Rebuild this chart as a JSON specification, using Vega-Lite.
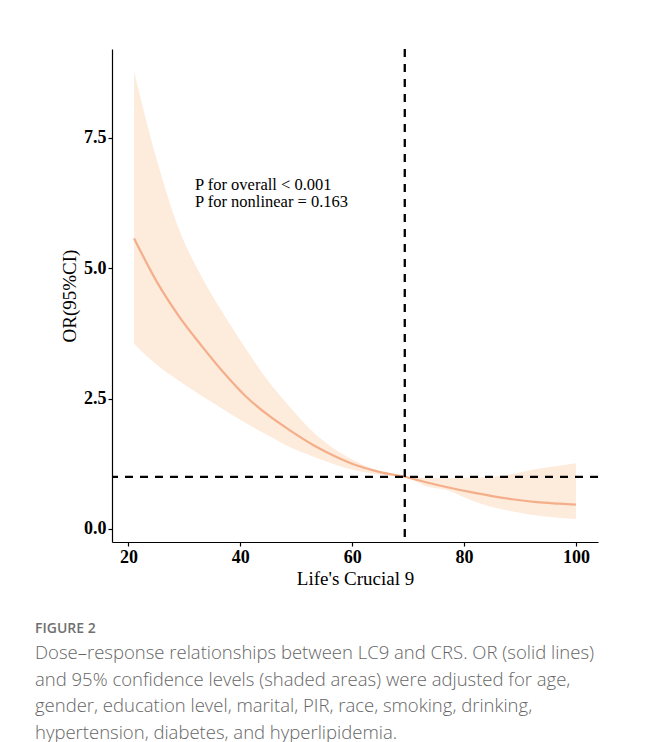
{
  "$schema": "https://vega.github.io/schema/vega-lite/v6.json",
  "width": 486,
  "height": 493,
  "autosize": "none",
  "padding": {"left": 112, "top": 49, "right": 50, "bottom": 200},
  "background": "white",
  "config": {
    "view": {"stroke": null},
    "axis": {
      "grid": false,
      "domainColor": "black",
      "domainWidth": 1.2,
      "tickColor": "black",
      "tickWidth": 1.2,
      "tickSize": 4,
      "labelPadding": 2,
      "labelFont": "Liberation Serif",
      "labelFontWeight": "bold",
      "labelFontSize": 18,
      "labelColor": "black",
      "titleFont": "Liberation Serif",
      "titleFontWeight": "normal",
      "titleFontSize": 19,
      "titleColor": "black"
    }
  },
  "title": {
    "text": "FIGURE 2",
    "subtitle": [
      "Dose\u2013response relationships between LC9 and CRS. OR (solid lines)",
      "and 95% confidence levels (shaded areas) were adjusted for age,",
      "gender, education level, marital, PIR, race, smoking, drinking,",
      "hypertension, diabetes, and hyperlipidemia."
    ],
    "orient": "bottom",
    "anchor": "start",
    "frame": "group",
    "dx": -77,
    "offset": 34,
    "font": "Open Sans",
    "fontSize": 14,
    "fontWeight": 600,
    "color": "#707070",
    "subtitleFont": "Open Sans",
    "subtitleFontSize": 18.5,
    "subtitleFontWeight": 300,
    "subtitleColor": "#666666",
    "subtitleLineHeight": 26.5,
    "subtitlePadding": 8
  },
  "data": {
    "values": [
      {"lc9": 21, "or": 5.57, "lo": 3.55, "hi": 8.77},
      {"lc9": 25, "or": 4.75, "lo": 3.15, "hi": 7.10},
      {"lc9": 29, "or": 4.08, "lo": 2.84, "hi": 5.75},
      {"lc9": 33, "or": 3.52, "lo": 2.56, "hi": 4.85},
      {"lc9": 37, "or": 3.00, "lo": 2.29, "hi": 4.12},
      {"lc9": 41, "or": 2.54, "lo": 2.03, "hi": 3.45},
      {"lc9": 45, "or": 2.18, "lo": 1.79, "hi": 2.83},
      {"lc9": 49, "or": 1.88, "lo": 1.56, "hi": 2.32},
      {"lc9": 53, "or": 1.61, "lo": 1.39, "hi": 1.86},
      {"lc9": 57, "or": 1.39, "lo": 1.23, "hi": 1.52},
      {"lc9": 61, "or": 1.21, "lo": 1.11, "hi": 1.28},
      {"lc9": 65, "or": 1.09, "lo": 1.04, "hi": 1.10},
      {"lc9": 69.4, "or": 1.00, "lo": 1.00, "hi": 1.00},
      {"lc9": 73, "or": 0.90, "lo": 0.83, "hi": 0.98},
      {"lc9": 77, "or": 0.80, "lo": 0.74, "hi": 0.97},
      {"lc9": 81, "or": 0.71, "lo": 0.56, "hi": 0.98},
      {"lc9": 85, "or": 0.63, "lo": 0.42, "hi": 1.00},
      {"lc9": 89, "or": 0.565, "lo": 0.33, "hi": 1.06},
      {"lc9": 93, "or": 0.515, "lo": 0.26, "hi": 1.15},
      {"lc9": 97, "or": 0.485, "lo": 0.215, "hi": 1.21},
      {"lc9": 100, "or": 0.465, "lo": 0.19, "hi": 1.26}
    ]
  },
  "layer": [
    {
      "mark": {"type": "area", "color": "#FDEBDC", "opacity": 1, "interpolate": "monotone"},
      "encoding": {
        "x": {
          "field": "lc9", "type": "quantitative",
          "scale": {"domain": [17.05, 103.95], "nice": false, "zero": false},
          "axis": {"values": [20, 40, 60, 80, 100], "title": "Life's Crucial 9", "titlePadding": 3}
        },
        "y": {
          "field": "lo", "type": "quantitative",
          "scale": {"domain": [-0.25, 9.2], "nice": false, "zero": false},
          "axis": {"values": [0, 2.5, 5, 7.5], "format": ".1f", "title": "OR(95%CI)", "titlePadding": 4}
        },
        "y2": {"field": "hi"}
      }
    },
    {
      "mark": {"type": "line", "color": "#F4AE8A", "strokeWidth": 2.2, "interpolate": "monotone"},
      "encoding": {
        "x": {"field": "lc9", "type": "quantitative"},
        "y": {"field": "or", "type": "quantitative"}
      }
    },
    {
      "data": {"values": [{"ref": "LC9 reference"}]},
      "mark": {"type": "rule", "color": "black", "strokeWidth": 2.3, "strokeDash": [8, 7]},
      "encoding": {"x": {"datum": 69.4}}
    },
    {
      "data": {"values": [{"ref": "OR = 1"}]},
      "mark": {"type": "rule", "color": "black", "strokeWidth": 2.3, "strokeDash": [8, 7]},
      "encoding": {"y": {"datum": 1}}
    },
    {
      "data": {"values": [{"note": "P values"}]},
      "mark": {"type": "text", "align": "left", "baseline": "alphabetic", "font": "Liberation Serif", "fontSize": 16.5, "fontWeight": "normal", "lineHeight": 16.5, "color": "black"},
      "encoding": {
        "x": {"datum": 31.9},
        "y": {"datum": 6.49},
        "text": {"value": ["P for overall < 0.001", "P for nonlinear = 0.163"]}
      }
    }
  ]
}
